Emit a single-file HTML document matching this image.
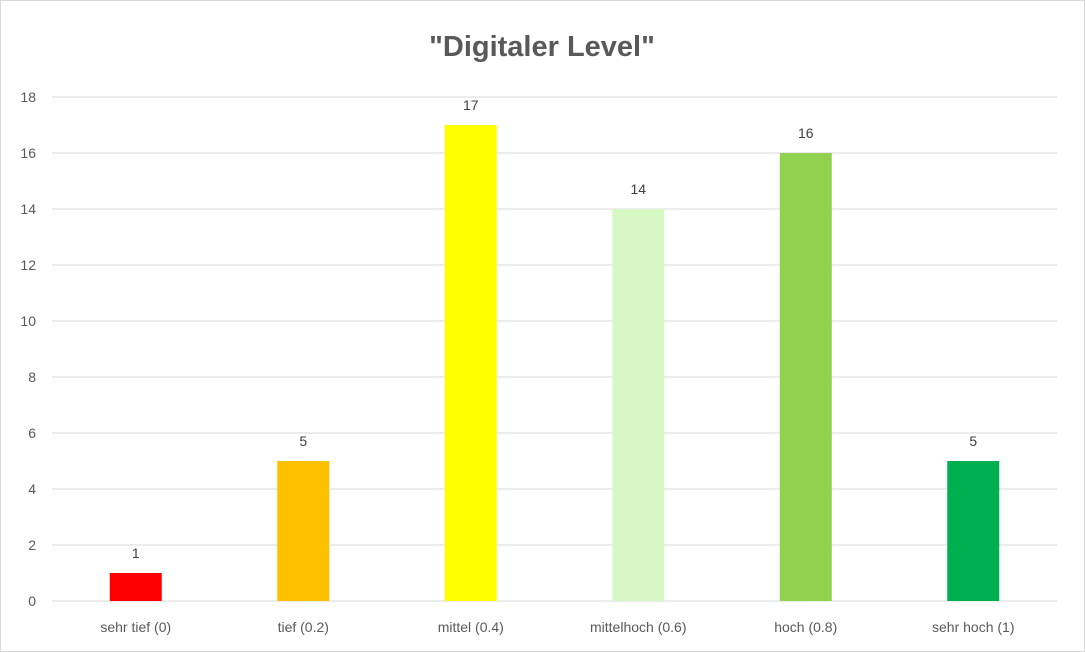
<!DOCTYPE html>
<html><head><meta charset="utf-8"><style>
body{margin:0;background:#fff;}
svg{display:block;font-family:"Liberation Sans",sans-serif;}
</style></head><body>
<svg id="chart" width="1085" height="652" viewBox="0 0 1085 652">
<rect x="0.5" y="0.5" width="1084" height="651" fill="#fff" stroke="#d9d9d9"/>
<text x="542" y="56" text-anchor="middle" font-size="29" font-weight="bold" fill="#595959">"Digitaler Level"</text>
<g id="grid"></g><g id="bars"></g><g id="labels"></g>
</svg>
<script>
const categories=["sehr tief (0)","tief (0.2)","mittel (0.4)","mittelhoch (0.6)","hoch (0.8)","sehr hoch (1)"];
const values=[1,5,17,14,16,5];
const colors=["#FF0000","#FFC000","#FFFF00","#D5F8C4","#92D050","#00B050"];
const yTicks=[0,2,4,6,8,10,12,14,16,18];
const NS="http://www.w3.org/2000/svg";
const x0=52,x1=1057,y0=601,yTop=97,yMax=18;
const y=v=>y0-(y0-yTop)*v/yMax;
const band=(x1-x0)/categories.length;
const xc=i=>x0+band*(i+0.5);
function mk(t,a,p){const e=document.createElementNS(NS,t);for(const k in a)e.setAttribute(k,a[k]);document.getElementById(p).appendChild(e);return e;}
yTicks.forEach(t=>{
 const l=mk("line",{x1:x0,x2:x1,y1:y(t),y2:y(t),stroke:"#d9d9d9","stroke-width":1},"grid");
 
 
 const tx=mk("text",{x:36,y:y(t)+5,"text-anchor":"end","font-size":14,fill:"#595959"},"grid");
 tx.textContent=t;
 
 
});
const bw=52;
values.forEach((v,i)=>{
 const r=mk("rect",{x:xc(i)-bw/2,y:y(v),width:bw,height:y0-y(v),fill:colors[i]},"bars");
 
 
 const t=mk("text",{x:xc(i),y:y(v)-15,"text-anchor":"middle","font-size":14,fill:"#404040"},"labels");
 t.textContent=v;
 
 
 const c=mk("text",{x:xc(i),y:y0+31,"text-anchor":"middle","font-size":14,fill:"#595959"},"labels");
 c.textContent=categories[i];
 
 
});
</script>
</body></html>
